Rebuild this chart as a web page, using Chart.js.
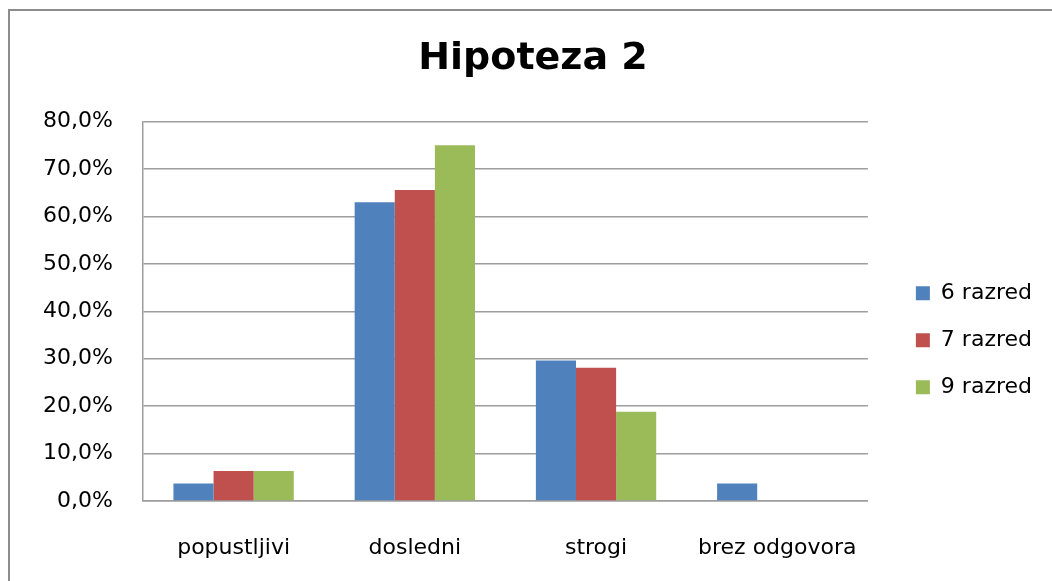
<!DOCTYPE html>
<html>
<head>
<meta charset="utf-8">
<script src="https://cdn.jsdelivr.net/npm/chart.js@4"></script>
<style>
  html, body { margin: 0; padding: 0; background: #fff; overflow: hidden; }
</style>
</head>
<body>
<canvas id="chart" width="1052" height="581"></canvas>
<script>
const categories = ["popustljivi", "dosledni", "strogi", "brez odgovora"]
const razred6 = [3.7, 63.0, 29.6, 3.7]
const razred7 = [6.3, 65.6, 28.1, 0]
const razred9 = [6.3, 75.0, 18.8, 0]
const seriesNames = ["6 razred", "7 razred", "9 razred"]

const font = "'DejaVu Sans', sans-serif"

// move legend and title to where Excel put them
const boxShift = {
  id: 'boxShift',
  afterLayout(chart) {
    const lg = chart.legend
    lg.left += 23; lg.right += 23
    lg.top += 29; lg.bottom += 29
    chart.titleBlock.left += 47
  }
}

// chart frame: only top and left edges show in the picture
const frame = {
  id: 'frame',
  afterDraw(chart) {
    const c = chart.ctx
    c.save()
    c.strokeStyle = '#8c8c8c'
    c.lineWidth = 2
    c.beginPath()
    c.moveTo(9, chart.height)
    c.lineTo(9, 10)
    c.lineTo(chart.width, 10)
    c.stroke()
    c.restore()
  }
}

const ctx = document.getElementById("chart")
new Chart(ctx, {
  type: 'bar',
  data: {
    labels: categories,
    datasets: [
      { label: seriesNames[0], data: razred6, backgroundColor: '#4f81bd', borderWidth: 0 },
      { label: seriesNames[1], data: razred7, backgroundColor: '#c0504d', borderWidth: 0 },
      { label: seriesNames[2], data: razred9, backgroundColor: '#9bbb59', borderWidth: 0 }
    ]
  },
  options: {
    responsive: false,
    animation: false,
    layout: { padding: { left: 0, right: 33, top: 0, bottom: 0 } },
    datasets: { bar: { categoryPercentage: 0.664, barPercentage: 1 } },
    plugins: {
      title: {
        display: true,
        text: 'Hipoteza 2',
        color: '#000',
        font: { family: font, size: 38, weight: 'bold' },
        padding: { top: 36, bottom: 40 }
      },
      legend: {
        position: 'right',
        fullSize: false,
        labels: {
          color: '#000',
          font: { family: font, size: 22 },
          boxWidth: 14,
          boxHeight: 14,
          padding: 25
        }
      },
      tooltip: { enabled: false }
    },
    scales: {
      x: {
        grid: { display: false, drawTicks: false },
        border: { display: true, color: '#9d9d9d', width: 1.5 },
        ticks: { color: '#000', font: { family: font, size: 22 }, padding: 34, maxRotation: 0 },
        afterFit(scale) { scale.height = 80 }
      },
      y: {
        min: 0,
        max: 80,
        grid: { color: '#9d9d9d', lineWidth: 1.5, drawTicks: false },
        border: { display: true, color: '#9d9d9d', width: 1.5 },
        ticks: {
          stepSize: 10,
          color: '#000',
          padding: 30,
          font: { family: font, size: 22 },
          callback: v => v.toFixed(1).replace('.', ',') + '%'
        },
        afterFit(scale) { scale.width = 143 }
      }
    }
  },
  plugins: [boxShift, frame]
})
</script>
</body>
</html>
